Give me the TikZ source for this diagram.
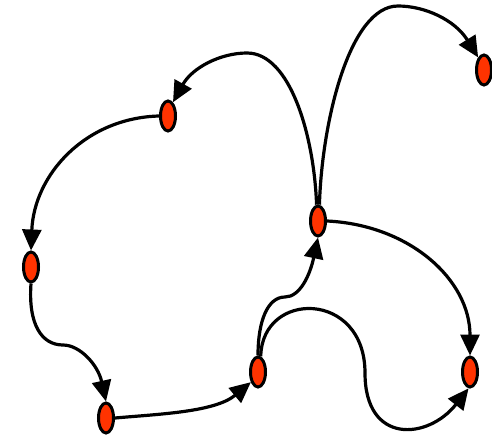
\documentclass[tikz,border=0pt]{standalone}
\usetikzlibrary{shapes.geometric,arrows.meta}

\definecolor{vred}{RGB}{255,51,0}
\tikzset{
  vertex/.style={ellipse,draw,line width=3pt,fill=vred,minimum width=15pt,minimum height=30pt,inner sep=0pt},
  edgeline/.style={line width=3.2pt,-{Triangle[length=21pt,width=19pt]}}
}

\begin{document}
\begin{tikzpicture}[x=1pt,y=1pt]
\useasboundingbox (0,0) rectangle (492,440);

\node[vertex] (a) at (168,324) {};
\node[vertex] (b) at (31,173) {};
\node[vertex] (c) at (106,22) {};
\node[vertex] (d) at (258,68) {};
\node[vertex] (e) at (318,219) {};
\node[vertex] (f) at (484,370) {};
\node[vertex] (g) at (470,68) {};

\draw[edgeline] (e.95) .. controls (314,305) and (290,387) .. (247,387)
  .. controls (220,387) and (192,372) .. (a.70);
\draw[edgeline] (a.west) .. controls (85,322) and (34,265) .. (b.north);
\draw[edgeline] (b.south) .. controls (28,115) and (42,95) .. (63,95)
  .. controls (80,95) and (98,75) .. (c.north);
\draw[edgeline] (c.east) .. controls (160,26) and (215,28) .. (d.235);
\draw[edgeline] (d.north) .. controls (258,120) and (268,143) .. (285,143)
  .. controls (300,143) and (310,165) .. (e.south);
\draw[edgeline] (e.85) .. controls (322,320) and (350,434) .. (398,434)
  .. controls (425,434) and (455,420) .. (f.115);
\draw[edgeline] (e.east) .. controls (410,215) and (470,160) .. (g.north);
\draw[edgeline] (d.80) .. controls (262,150) and (365,150) .. (365,67)
  .. controls (365,-5) and (428,0) .. (g.265);
\end{tikzpicture}
\end{document}
